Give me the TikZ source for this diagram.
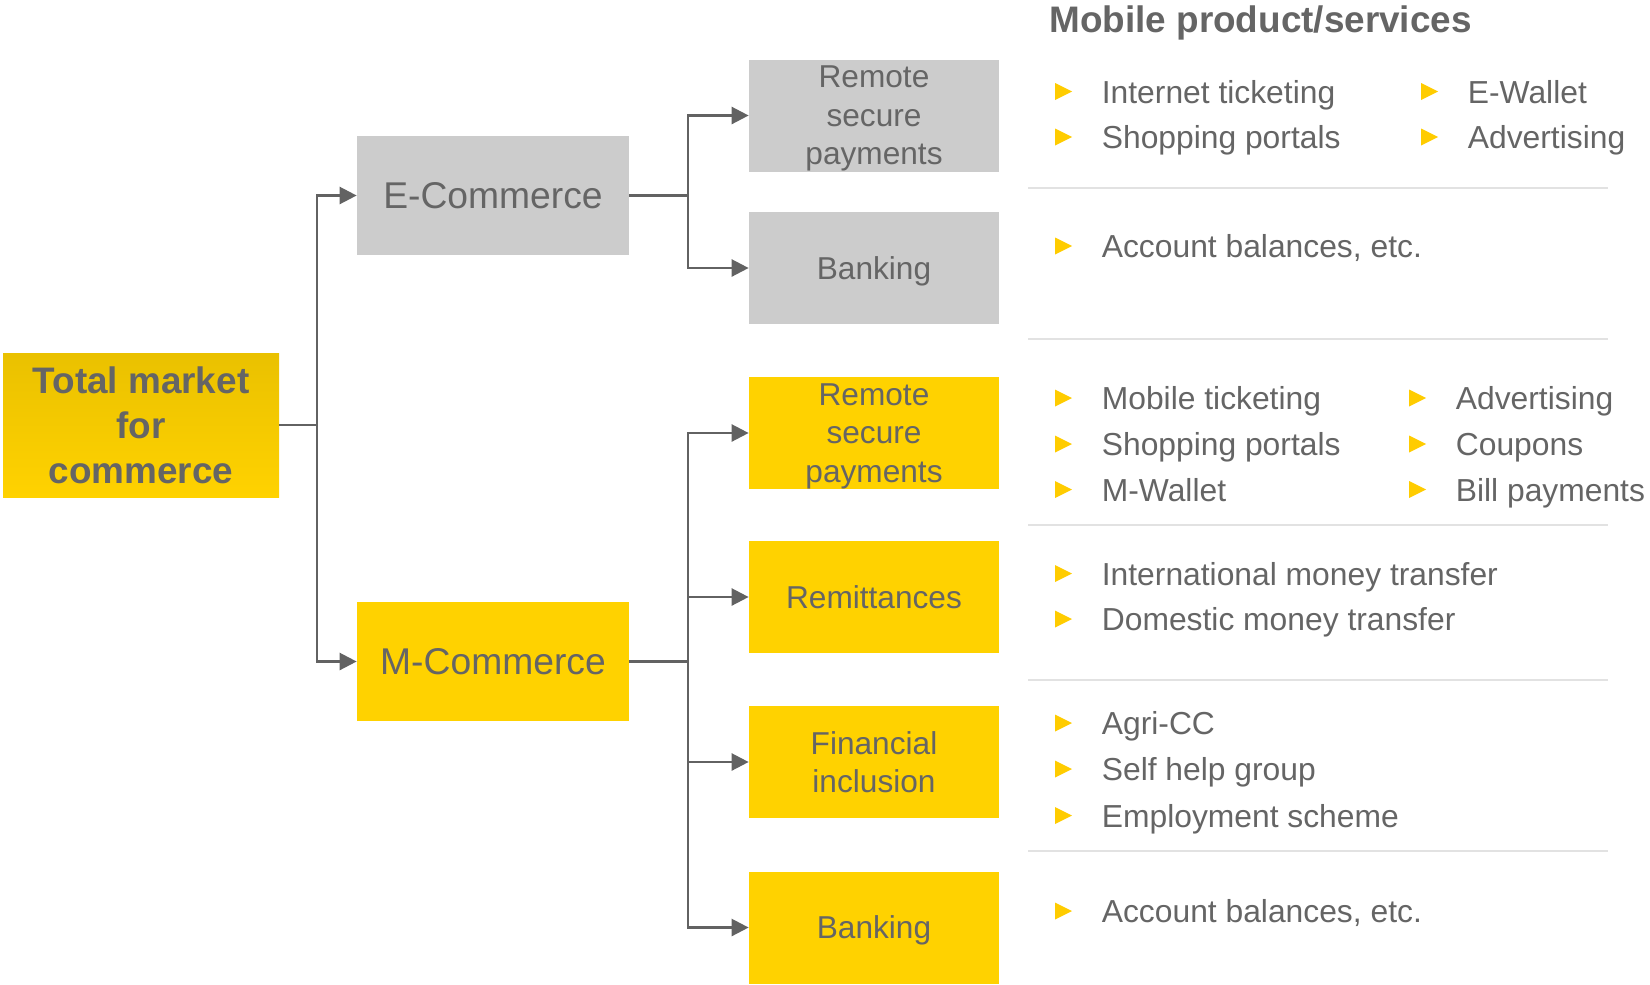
\documentclass[tikz,border=0pt]{standalone}
\usepackage{fontspec}
\setmainfont{Liberation Sans}
\usetikzlibrary{arrows.meta}

\definecolor{txtgray}{HTML}{656565}
\definecolor{linegray}{HTML}{626262}
\definecolor{sepgray}{HTML}{E2E2E2}
\definecolor{boxgray}{HTML}{CCCCCC}
\definecolor{boxyellow}{HTML}{FFD200}
\definecolor{darkyellow}{HTML}{EAC100}
\definecolor{bulletyellow}{HTML}{FFCC00}

\tikzset{
    box/.style={inner sep=0pt, align=center, text=txtgray, text depth=0pt,
        minimum width=5cm, minimum height=2.24cm,
        font=\fontsize{18}{21.9}\selectfont},
    midbox/.style={box, minimum width=5.44cm, minimum height=2.38cm,
        font=\fontsize{21.2}{25}\selectfont},
    conn/.style={draw=linegray, line width=1.4pt},
    arr/.style={conn, -{Triangle[length=3.4mm, width=3.4mm]}},
    item/.style={inner sep=0pt, text=txtgray, font=\fontsize{18.1}{21}\selectfont},
}

\begin{document}
\begin{tikzpicture}
    \useasboundingbox (0,0) rectangle (33,-19.68);

    % root
    \node[box, minimum width=5.52cm, minimum height=2.88cm,
        top color=darkyellow, bottom color=boxyellow,
        font=\bfseries\fontsize{21}{25.4}\selectfont] (total) at (2.82,-8.50)
        {Total market\\for\\commerce};

    % middle level
    \node[midbox, fill=boxgray] (ecom) at (9.86,-3.91) {E-Commerce};
    \node[midbox, fill=boxyellow] (mcom) at (9.86,-13.23) {M-Commerce};

    % right level
    \node[box, fill=boxgray] (erem) at (17.48,-2.31) {Remote\\secure\\payments};
    \node[box, fill=boxgray] (ebank) at (17.48,-5.36) {Banking};
    \node[box, fill=boxyellow] (mrem) at (17.48,-8.66) {Remote\\secure\\payments};
    \node[box, fill=boxyellow] (remit) at (17.48,-11.94) {Remittances};
    \node[box, fill=boxyellow] (fincl) at (17.48,-15.24) {Financial\\inclusion};
    \node[box, fill=boxyellow] (mbank) at (17.48,-18.55) {Banking};

    % connectors
    \coordinate (fork0) at (6.34,-8.50);
    \coordinate (fork1) at (13.76,-3.91);
    \coordinate (fork2) at (13.76,-13.23);

    \draw[conn] (total.east) -- (fork0);
    \draw[arr] (fork0) |- (ecom.west);
    \draw[arr] (fork0) |- (mcom.west);

    \draw[conn] (ecom.east) -- (fork1);
    \draw[arr] (fork1) |- (erem.west);
    \draw[arr] (fork1) |- (ebank.west);

    \draw[conn] (mcom.east) -- (fork2);
    \foreach \target in {mrem, remit, fincl, mbank}
        \draw[arr] (fork2) |- (\target.west);

    % list of products
    \node[inner sep=0pt, anchor=base west, text=txtgray,
        font=\bfseries\fontsize{21}{25}\selectfont] (title) at (20.98,-0.645)
        {Mobile product/services};

    \foreach \sy in {-3.76, -6.78, -10.5, -13.6, -17.02}
        \draw[sepgray, line width=0.8pt] (20.56,\sy) -- (32.16,\sy);

    \foreach \bx/\by/\btext [count=\i] in {
        21.26/-1.83/Internet ticketing, 21.26/-2.74/Shopping portals,
        28.58/-1.83/E-Wallet, 28.58/-2.74/Advertising,
        21.26/-4.92/{Account balances, etc.},
        21.26/-7.96/Mobile ticketing, 21.26/-8.88/Shopping portals,
        21.26/-9.79/M-Wallet,
        28.34/-7.96/Advertising, 28.34/-8.88/Coupons, 28.34/-9.79/Bill payments,
        21.26/-11.47/International money transfer,
        21.26/-12.38/Domestic money transfer,
        21.26/-14.46/Agri-CC, 21.26/-15.38/Self help group,
        21.26/-16.31/Employment scheme,
        21.26/-18.22/{Account balances, etc.}}
    {
        \fill[bulletyellow] (\bx-0.16,\by+0.17) -- (\bx+0.18,\by)
            -- (\bx-0.16,\by-0.17) -- cycle;
        \node[item, anchor=base west] (item\i) at (\bx+0.77,\by-0.23) {\btext};
    }
\end{tikzpicture}
\end{document}
